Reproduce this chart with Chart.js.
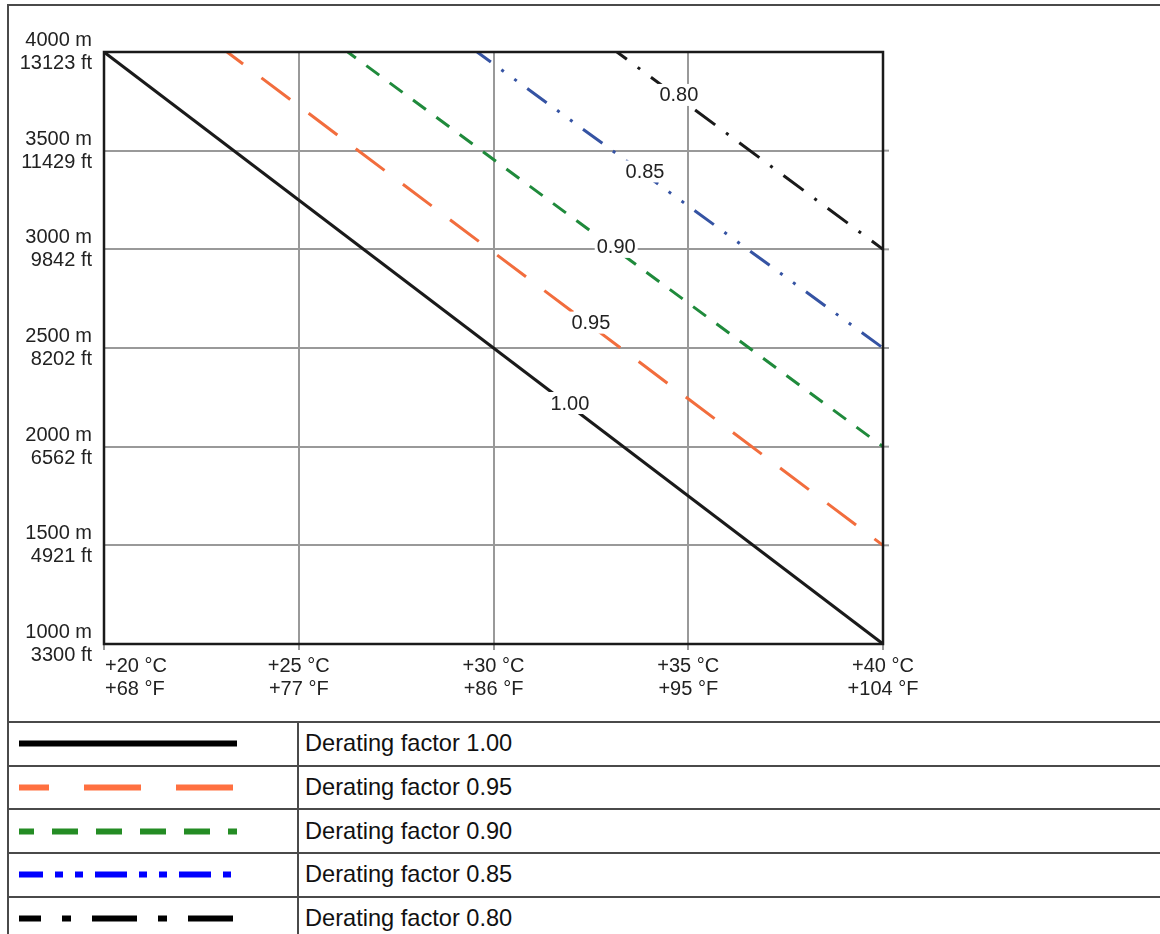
<!DOCTYPE html>
<html>
<head>
<meta charset="utf-8">
<script src="https://cdn.jsdelivr.net/npm/chart.js@4.4.1/dist/chart.umd.min.js"></script>
<style>
  html, body { margin: 0; padding: 0; background: #fff; overflow: hidden; }
  body { width: 1160px; height: 934px; position: relative; font-family: "Liberation Sans", Arial, Helvetica, sans-serif; }
  #frame { position: absolute; left: 7px; top: 4px; width: 1200px; height: 717px; border-left: 2px solid #4a4a4a; border-top: 2px solid #4a4a4a; }
  #wrap { position: absolute; left: 0; top: 0; width: 1160px; height: 720px; }
  table { position: absolute; left: 7px; top: 721px; width: 1200px; border-collapse: collapse; }
  td { border: 2px solid #4a4a4a; height: 41.7px; padding: 0; }
  td.sw { width: 288px; }
  td.txt { font-size: 23.6px; color: #111; padding-left: 6px; }
  svg { display: block; }
</style>
</head>
<body>
<div id="frame"></div>
<div id="wrap"><canvas id="grafico" width="1160" height="720"></canvas></div>
<table id="legenda"></table>
<script>
// Temperatura (eixo x) e altitude (eixo y)
const tempC = [20, 25, 30, 35, 40];
const tempF = [68, 77, 86, 95, 104];
const altM = [1000, 1500, 2000, 2500, 3000, 3500, 4000];
const altFt = [3300, 4921, 6562, 8202, 9842, 11429, 13123];

// Curvas de derating: começam em 4000 m e terminam em +40 °C
const fatores = ['1.00', '0.95', '0.90', '0.85', '0.80'];
const tempInicio = [20, 23.16, 26.26, 29.58, 33.17];
const altInicio = [4000, 4000, 4000, 4000, 4000];
const tempFim = [40, 40, 40, 40, 40];
const altFim = [1000, 1500, 2000, 2500, 3000];
// posição (°C) do rótulo em cada curva
const tempRotulo = [31.96, 32.5, 33.15, 33.89, 34.76];

const cores = ['#1a1a1a', '#f26d3d', '#1f8a3b', '#3553a3', '#1a1a1a'];
const tracos = [[], [36, 23], [16, 13], [24, 13, 3, 13, 3, 13], [25, 13.5, 3, 13.5]];
const offsetTraco = [0, 16, 6, 7, 12.7];

// legenda (tabela)
const coresLegenda = ['#000000', '#ff7040', '#248c24', '#0000ff', '#000000'];
const tracosLegenda = ['', '57 35', '26 18', '32 12 8 12 8 12', '45 21 9 21'];
const offsetLegenda = [0, 27, 11, 8, 23];

const fonte = "'Liberation Sans', Arial, Helvetica, sans-serif";

const rotulosCurvas = {
    id: 'rotulosCurvas',
    afterDraw(chart) {
        const ctx = chart.ctx;
        const xs = chart.scales.x, ys = chart.scales.y;
        const area = chart.chartArea;
        ctx.save();
        // pequenos traços à direita das linhas horizontais
        ctx.strokeStyle = '#999';
        ctx.lineWidth = 2;
        altM.forEach((a, i) => {
            if (i === 0 || i === altM.length - 1) return;
            const py = ys.getPixelForValue(a);
            ctx.beginPath();
            ctx.moveTo(area.right, py);
            ctx.lineTo(area.right + 6, py);
            ctx.stroke();
        });
        // moldura do gráfico
        ctx.strokeStyle = '#1a1a1a';
        ctx.lineWidth = 2.5;
        ctx.strokeRect(area.left, area.top, area.right - area.left, area.bottom - area.top);

        // rótulos do eixo x (o primeiro alinhado à esquerda)
        ctx.font = '20px ' + fonte;
        ctx.fillStyle = '#222';
        ctx.textBaseline = 'middle';
        tempC.forEach((c, i) => {
            const px = xs.getPixelForValue(c);
            ctx.textAlign = i === 0 ? 'left' : 'center';
            const x0 = i === 0 ? px + 1 : px;
            ctx.fillText('+' + c + ' °C', x0, area.bottom + 22);
            ctx.fillText('+' + tempF[i] + ' °F', x0, area.bottom + 45);
        });

        // rótulos nas curvas
        ctx.textAlign = 'center';
        fatores.forEach((f, i) => {
            const t = tempRotulo[i];
            const a = altInicio[i] + (altFim[i] - altInicio[i]) * (t - tempInicio[i]) / (tempFim[i] - tempInicio[i]);
            const px = xs.getPixelForValue(t);
            const py = ys.getPixelForValue(a) - 3;
            const w = ctx.measureText(f).width;
            ctx.fillStyle = '#fff';
            ctx.fillRect(px - w / 2 - 2, py - 11, w + 4, 22);
            ctx.fillStyle = '#222';
            ctx.fillText(f, px, py + 1);
        });
        ctx.restore();
    }
};

function inicializarGrafico() {
    Chart.defaults.font.family = fonte;
    Chart.defaults.color = '#222';

    new Chart(document.getElementById('grafico').getContext('2d'), {
        type: 'line',
        data: {
            datasets: fatores.map((f, i) => ({
                label: 'Derating factor ' + f,
                data: [
                    { x: tempInicio[i], y: altInicio[i] },
                    { x: tempFim[i], y: altFim[i] }
                ],
                borderColor: cores[i],
                borderWidth: 3,
                borderDash: tracos[i],
                borderDashOffset: offsetTraco[i],
                borderCapStyle: 'butt',
                pointRadius: 0,
                fill: false,
                tension: 0
            }))
        },
        options: {
            responsive: false,
            animation: false,
            layout: { padding: { left: 0, top: 52, right: 277, bottom: 0 } },
            plugins: {
                legend: { display: false },
                tooltip: { enabled: false }
            },
            scales: {
                x: {
                    type: 'linear',
                    min: 20,
                    max: 40,
                    afterFit: s => { s.height = 76; },
                    afterBuildTicks: s => { s.ticks = tempC.map(v => ({ value: v })); },
                    border: { display: false },
                    grid: { color: '#999', lineWidth: 2, tickLength: 6 },
                    ticks: { display: false }
                },
                y: {
                    type: 'linear',
                    min: 1000,
                    max: 4000,
                    afterFit: s => { s.width = 104; },
                    afterBuildTicks: s => { s.ticks = altM.map(v => ({ value: v })); },
                    border: { display: false },
                    grid: { color: '#999', lineWidth: 2, drawTicks: false },
                    ticks: {
                        autoSkip: false,
                        padding: 12,
                        font: { size: 20, lineHeight: '23px' },
                        callback: v => {
                            const i = altM.indexOf(v);
                            return [altM[i] + ' m', altFt[i] + ' ft'];
                        }
                    }
                }
            }
        },
        plugins: [rotulosCurvas]
    });
}

function montarLegenda() {
    const tabela = document.getElementById('legenda');
    tabela.innerHTML = fatores.map((f, i) =>
        `<tr>
            <td class="sw"><svg width="288" height="41">
                <line x1="10" y1="20.5" x2="228" y2="20.5" stroke="${coresLegenda[i]}" stroke-width="6"
                    ${tracosLegenda[i] ? `stroke-dasharray="${tracosLegenda[i]}" stroke-dashoffset="${offsetLegenda[i]}"` : ''}/>
            </svg></td>
            <td class="txt">Derating factor ${f}</td>
        </tr>`
    ).join('');
}

document.addEventListener('DOMContentLoaded', () => {
    inicializarGrafico();
    montarLegenda();
});
</script>
</body>
</html>
